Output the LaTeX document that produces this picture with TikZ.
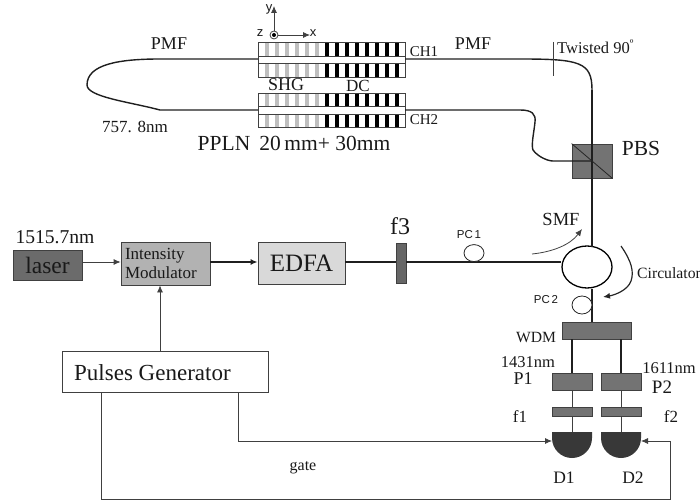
\documentclass[tikz,border=0pt]{standalone}
\usepackage{fontspec}
\setmainfont{Liberation Serif}
\setsansfont{Liberation Sans}
\usetikzlibrary{arrows.meta,shapes.geometric}
\tikzset{
  lab/.style={inner sep=0pt, text=black!90, font=\fontsize{#1}{#1}\selectfont},
  sanslab/.style={inner sep=0pt, text=black!90, font=\sffamily\fontsize{#1}{#1}\selectfont},
  unit/.style={draw=black!75, line width=0.8pt, inner sep=0pt, text=black!90},
  fiber/.style={black!88, line width=1.4pt},
  wire/.style={black!75, line width=0.8pt},
  arr/.style={-{Latex[length=7pt,width=6pt]}}
}
\begin{document}
\begin{tikzpicture}[x=1pt, y=-1pt]
\useasboundingbox (0,0) rectangle (700,502);
% crystals
\foreach \ytop/\ybot/\yina/\yinb in {42/77/56/63, 93/127/106/114} {
  \foreach \xbar in {265,275,285,295,305,315}
    \fill[black!25] (\xbar,\ytop) rectangle (\xbar+4,\ybot);
  \foreach \xbar in {325,335,345,355,365,375,385,395}
    \fill[black] (\xbar,\ytop) rectangle (\xbar+4,\ybot);
  \fill[white] (258,\yina) rectangle (405,\yinb);
  \draw[wire] (258,\ytop) rectangle (405,\ybot);
  \draw[wire] (258,\yina) rectangle (405,\yinb);
}
\coordinate (chal) at (258,59);
\coordinate (chbl) at (258,110);
\coordinate (char) at (405,59);
\coordinate (chbr) at (405,110);
% axes
\coordinate (ax) at (274,35);
\coordinate (ay) at (274,6);
\coordinate (az) at (310,35);
\draw[wire, arr] (ax)--(ay);
\draw[wire, arr] (ax)--(az);
\draw[wire, fill=white] (ax) circle (4);
\fill[black] (ax) circle (2);
\node[sanslab=13] (ylab) at (269,9) {y};
\node[sanslab=13] (zlab) at (260,33) {z};
\node[sanslab=13] (xlab) at (313,33) {x};
% loop on the left
\draw[fiber] (chal)--(160,59) .. controls (120,59) and (87,64) .. (87,85)
  .. controls (87,97) and (130,102) .. (160,110)--(chbl);
\node[lab=18] (pmfa) at (169,44) {PMF};
\node[lab=17] (wave) at (135,127) {757. 8nm};
\node[lab=18] (shg) at (286,85) {SHG};
\node[lab=17] (dc) at (358,86) {DC};
\node[lab=15] (cha) at (424,52) {CH1};
\node[lab=15] (chb) at (424,120) {CH2};
\node[lab=21.5] (ppln) at (294,143) {PPLN\, 20\,mm+ 30mm};
\node[lab=18] (pmfb) at (473,44) {PMF};
% right side
\node[unit, fill=black!55, minimum width=40pt, minimum height=34pt] (pbs) at (592,161) {};
\node[draw=black, line width=1.3pt, ellipse, minimum width=50pt, minimum height=42pt, inner sep=0pt] (circ) at (587,267) {};
\coordinate (top) at (592,90);
\draw[fiber] (char)--(520,59) .. controls (580,59) and (592,62) .. (top);
\draw[fiber] (top)--(592,247);
\draw[fiber] (chbr)--(520,110) .. controls (532,110) and (536,114) .. (535,122)
  .. controls (534,132) and (531,145) .. (533,150) .. controls (538,157) and (548,161) .. (553,161)--(pbs.center);
\draw[black!85, line width=0.8pt] (pbs.north west)--(pbs.south east);
\draw[wire] (553,42)--(553,76);
\node[lab=16.5, anchor=west] (twist) at (557,47) {Twisted 90\textsuperscript{º}};
\node[lab=21.5] (pbslab) at (641,148) {PBS};
\node[lab=18.5] (smf) at (561,219) {SMF};
\draw[wire, arr] (532,254) .. controls (552,252) and (570,245) .. (582,229);
\draw[black!85, line width=1.2pt, arr] (621,246) .. controls (632,262) and (634,272) .. (631,281) .. controls (628,290) and (615,295) .. (603,297);
\node[lab=15.7, anchor=west] (circlab) at (637,273) {Circulator};
% input line
\node[unit, fill=black!58, minimum width=69pt, minimum height=30pt, lab=23.5] (laser) at (47.5,265) {laser};
\node[lab=19.6] (lambda) at (55,237) {1515.7nm};
\node[unit, fill=black!30, minimum width=89pt, minimum height=43pt, lab=17, text width=81pt, align=left] (im) at (165.5,263.5) {Intensity\\[2pt]Modulator};
\node[unit, fill=black!15, minimum width=87pt, minimum height=42pt, lab=25] (edfa) at (301.5,263) {EDFA};
\node[unit, fill=black!60, minimum width=10pt, minimum height=40pt] (fthree) at (401,263) {};
\node[lab=24] (fthreelab) at (400,226) {f3};
\node[sanslab=11.5] (pca) at (469,235) {PC\,1};
\node[sanslab=11.5] (pcb) at (546,300) {PC\,2};
\node[unit, minimum width=206pt, minimum height=41pt] (pg) at (165,371.5) {};
\node[lab=23, anchor=west] (pglab) at (74,373) {Pulses Generator};
\draw[wire, arr] (laser.east|-0,262)--(im.west|-0,262);
\draw[fiber, arr] (im.east|-0,262)--(edfa.west|-0,262);
\draw[wire, arr] (160,351)--(im.south-|160,0);
\draw[fiber] (edfa.east|-0,262)--(fthree.west|-0,262);
\draw[fiber] (fthree.east|-0,262)--(circ.west|-0,262);
\node[draw=black!85, line width=0.8pt, fill=white, ellipse, minimum width=20pt, minimum height=17pt, inner sep=0pt, anchor=south] (pcone) at (474,262) {};
% receiver
\node[unit, fill=black!55, minimum width=69pt, minimum height=17pt] (wdm) at (596.5,330.5) {};
\node[lab=15.6] (wdmlab) at (536,338) {WDM};
\draw[fiber] (circ.south-|592,0)--(wdm.north-|592,0);
\node[draw=black!85, line width=0.8pt, fill=white, ellipse, minimum width=20pt, minimum height=18pt, inner sep=0pt] (pctwo) at (582,305) {};
\foreach \name/\xc/\num in {a/572/1, b/621/2} {
  \node[unit, fill=black!55, minimum width=40pt, minimum height=17pt] (p\name) at (\xc,381.5) {};
  \node[unit, fill=black!55, minimum width=40pt, minimum height=9pt] (f\name) at (\xc,411.5) {};
  \fill[black!78] (\xc-20,432) -- (\xc+20,432)
    -- (\xc+20,438) arc[start angle=0, end angle=180, x radius=20, y radius=20] -- cycle;
  \coordinate (d\name t) at (\xc,432);
  \draw[fiber] (wdm.south-|\xc,0)--(p\name.north);
  \draw[wire] (p\name.south)--(f\name.north);
  \draw[wire] (f\name.south)--(d\name t);
}
\node[lab=16.5] (lamp) at (528,362) {1431nm};
\node[lab=18] (plab) at (523,379) {P1};
\node[lab=16.5] (lams) at (669,368) {1611nm};
\node[lab=19] (qlab) at (662,387) {P2};
\node[lab=17] (flab) at (520,417) {f1};
\node[lab=17] (glab) at (671,417) {f2};
\node[lab=17.5] (dalab) at (564,478) {D1};
\node[lab=17.5] (dblab) at (633,478) {D2};
\node[lab=16] (gate) at (303,468) {gate};
% gate lines
\coordinate (gatea) at (238,392);
\coordinate (gateb) at (101,392);
\draw[wire, arr] (gatea)--(238,441)--(552,441);
\draw[wire, arr] (gateb)--(101,499)--(670,499)--(670,441)--(641,441);
\end{tikzpicture}
\end{document}
